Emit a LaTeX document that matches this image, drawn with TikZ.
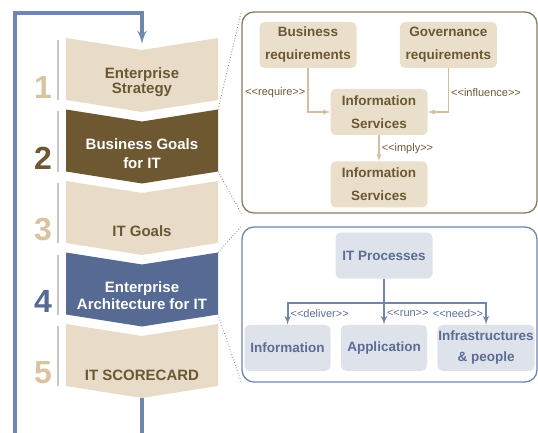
\documentclass[tikz,border=0pt]{standalone}
\usepackage{fontspec}
\setmainfont{Liberation Sans}
\usepackage{tikz}
\usetikzlibrary{shapes,arrows,positioning,calc}

\definecolor{tanfill}{HTML}{E8DCC8}
\definecolor{tanbox}{HTML}{EADFCB}
\definecolor{tannum}{HTML}{D8C4A0}
\definecolor{tanline}{HTML}{D3BF9C}
\definecolor{browntext}{HTML}{6B5734}
\definecolor{brownfill}{HTML}{6E5832}
\definecolor{brownline}{HTML}{8A7A5C}
\definecolor{bluefill}{HTML}{576A93}
\definecolor{bluebox}{HTML}{DEE2EA}
\definecolor{bluetext}{HTML}{5B6D94}
\definecolor{blueline}{HTML}{6F86AD}
\definecolor{graybar}{HTML}{C6C6C6}

\newcommand{\stereo}[1]{<\kern0pt<#1>\kern0pt>}

\begin{document}
\begin{tikzpicture}[x=1pt, y=-1pt, >=latex']
\tikzset{
chev/.style      = {align=center, font=\bfseries\fontsize{15}{17}\selectfont},
num/.style       = {font=\bfseries\fontsize{32}{32}\selectfont},
tanblock/.style  = {fill=tanbox, rounded corners=5pt, inner sep=1pt, minimum width=97pt, minimum height=46pt, align=center, text=browntext, font=\bfseries\fontsize{13.5}{23}\selectfont},
blueblock/.style = {fill=bluebox, rounded corners=5pt, inner sep=1pt, minimum height=46pt, align=center, text=bluetext, font=\bfseries\fontsize{13.5}{21}\selectfont},
frame/.style     = {draw, line width=1.3pt, rounded corners=12pt, minimum width=295pt},
tanarrow/.style  = {->, draw=tanline, line width=1.5pt},
bluearrow/.style = {->, draw=blueline, line width=2pt},
lbl/.style       = {font=\fontsize{11}{12}\selectfont, inner sep=2pt},
loopline/.style  = {draw=blueline, line width=3.5pt},
}
    \useasboundingbox (0,0) rectangle (538,433);

    % Chevron nodes
    \foreach \i/\fillc/\numc/\txtc/\dy/\txt in {
        1/tanfill/tannum/browntext/44/{Enterprise\\[-2pt]Strategy},
        2/brownfill/brownfill/white/44/{Business Goals\\[2pt]for IT},
        3/tanfill/tannum/browntext/50/{IT Goals},
        4/bluefill/bluefill/white/43/{Enterprise\\Architecture for IT},
        5/tanfill/tannum/browntext/51/{IT SCORECARD}}
    {
        \pgfmathsetmacro{\ytop}{38+71.5*(\i-1)}
        \fill[\fillc] (66,\ytop) -- (142,\ytop+12) -- (218,\ytop) -- (218,\ytop+62)
            -- (142,\ytop+74) -- (66,\ytop+62) -- cycle;
        \draw[graybar, line width=2pt] (58,\ytop+2) -- (58,\ytop+62);
        \coordinate (notch\i)   at (142,\ytop+12);
        \coordinate (tip\i)     at (142,\ytop+74);
        \coordinate (chevtop\i) at (218,\ytop);
        \coordinate (chevbot\i) at (218,\ytop+62);
        \node [chev, text=\txtc] (chev\i) at (142,\ytop+\dy) {\txt};
        \node [num, text=\numc]  (num\i)  at (43,\ytop+49)   {\i};
    }

    % Feedback loop
    \coordinate (loopend) at ($(notch1)+(0,-6)$);
    \draw [loopline, ->] (tip5) |- (15,434.5) |- (142,13) -- (loopend);

    % Business frame nodes
    \node [frame, draw=brownline, minimum height=201pt] (bizframe) at (389.5,112.5) {};
    \node [tanblock] (bizreq) at (308,45) {Business\\requirements};
    \node [tanblock, right=43pt of bizreq] (govreq) {Governance\\requirements};
    \node [tanblock] (infosvc) at (379,112) {Information\\Services};
    \node [tanblock, below=26pt of infosvc] (infosvcb) {Information\\Services};

    % Business frame edges
    \draw [tanarrow] (bizreq.south) |- node[lbl, pos=0.28, left, text=browntext]{\stereo{require}} (infosvc.west);
    \draw [tanarrow] (govreq.south) |- node[lbl, pos=0.28, right, text=browntext]{\stereo{influence}} (infosvc.east);
    \draw [tanarrow] (infosvc) -- node[lbl, right, text=browntext]{\stereo{imply}} (infosvcb);
    \draw [brownline, dotted, line width=0.8pt] (chevtop2) -- (bizframe.north west);
    \draw [brownline, dotted, line width=0.8pt] (chevbot2) -- (bizframe.south west);

    % Architecture frame nodes
    \node [frame, draw=blueline, minimum height=155pt] (archframe) at (389.5,304.5) {};
    \node [blueblock, minimum width=97pt] (itproc) at (384,255.5) {IT Processes};
    \node [blueblock, minimum width=86pt, below=46pt of itproc] (app) {Application};
    \node [blueblock, minimum width=86pt, left=10pt of app] (info) {Information};
    \node [blueblock, minimum width=96pt, right=10pt of app] (infra) {Infrastructures\\\& people};

    % Architecture frame edges
    \coordinate (split) at ($(itproc.south)+(0,24)$);
    \draw [bluearrow] (itproc.south) -- node[lbl, pos=0.76, right, text=bluetext]{\stereo{run}} (app.north);
    \draw [bluearrow] (split) -| node[lbl, pos=0.75, right, text=bluetext]{\stereo{deliver}} (info.north);
    \draw [bluearrow] (split) -| node[lbl, pos=0.75, left, text=bluetext]{\stereo{need}} (infra.north);
    \draw [blueline, dotted, line width=0.8pt] (chevtop4) -- (archframe.north west);
    \draw [blueline, dotted, line width=0.8pt] (chevbot4) -- (archframe.south west);

\end{tikzpicture}
\end{document}
